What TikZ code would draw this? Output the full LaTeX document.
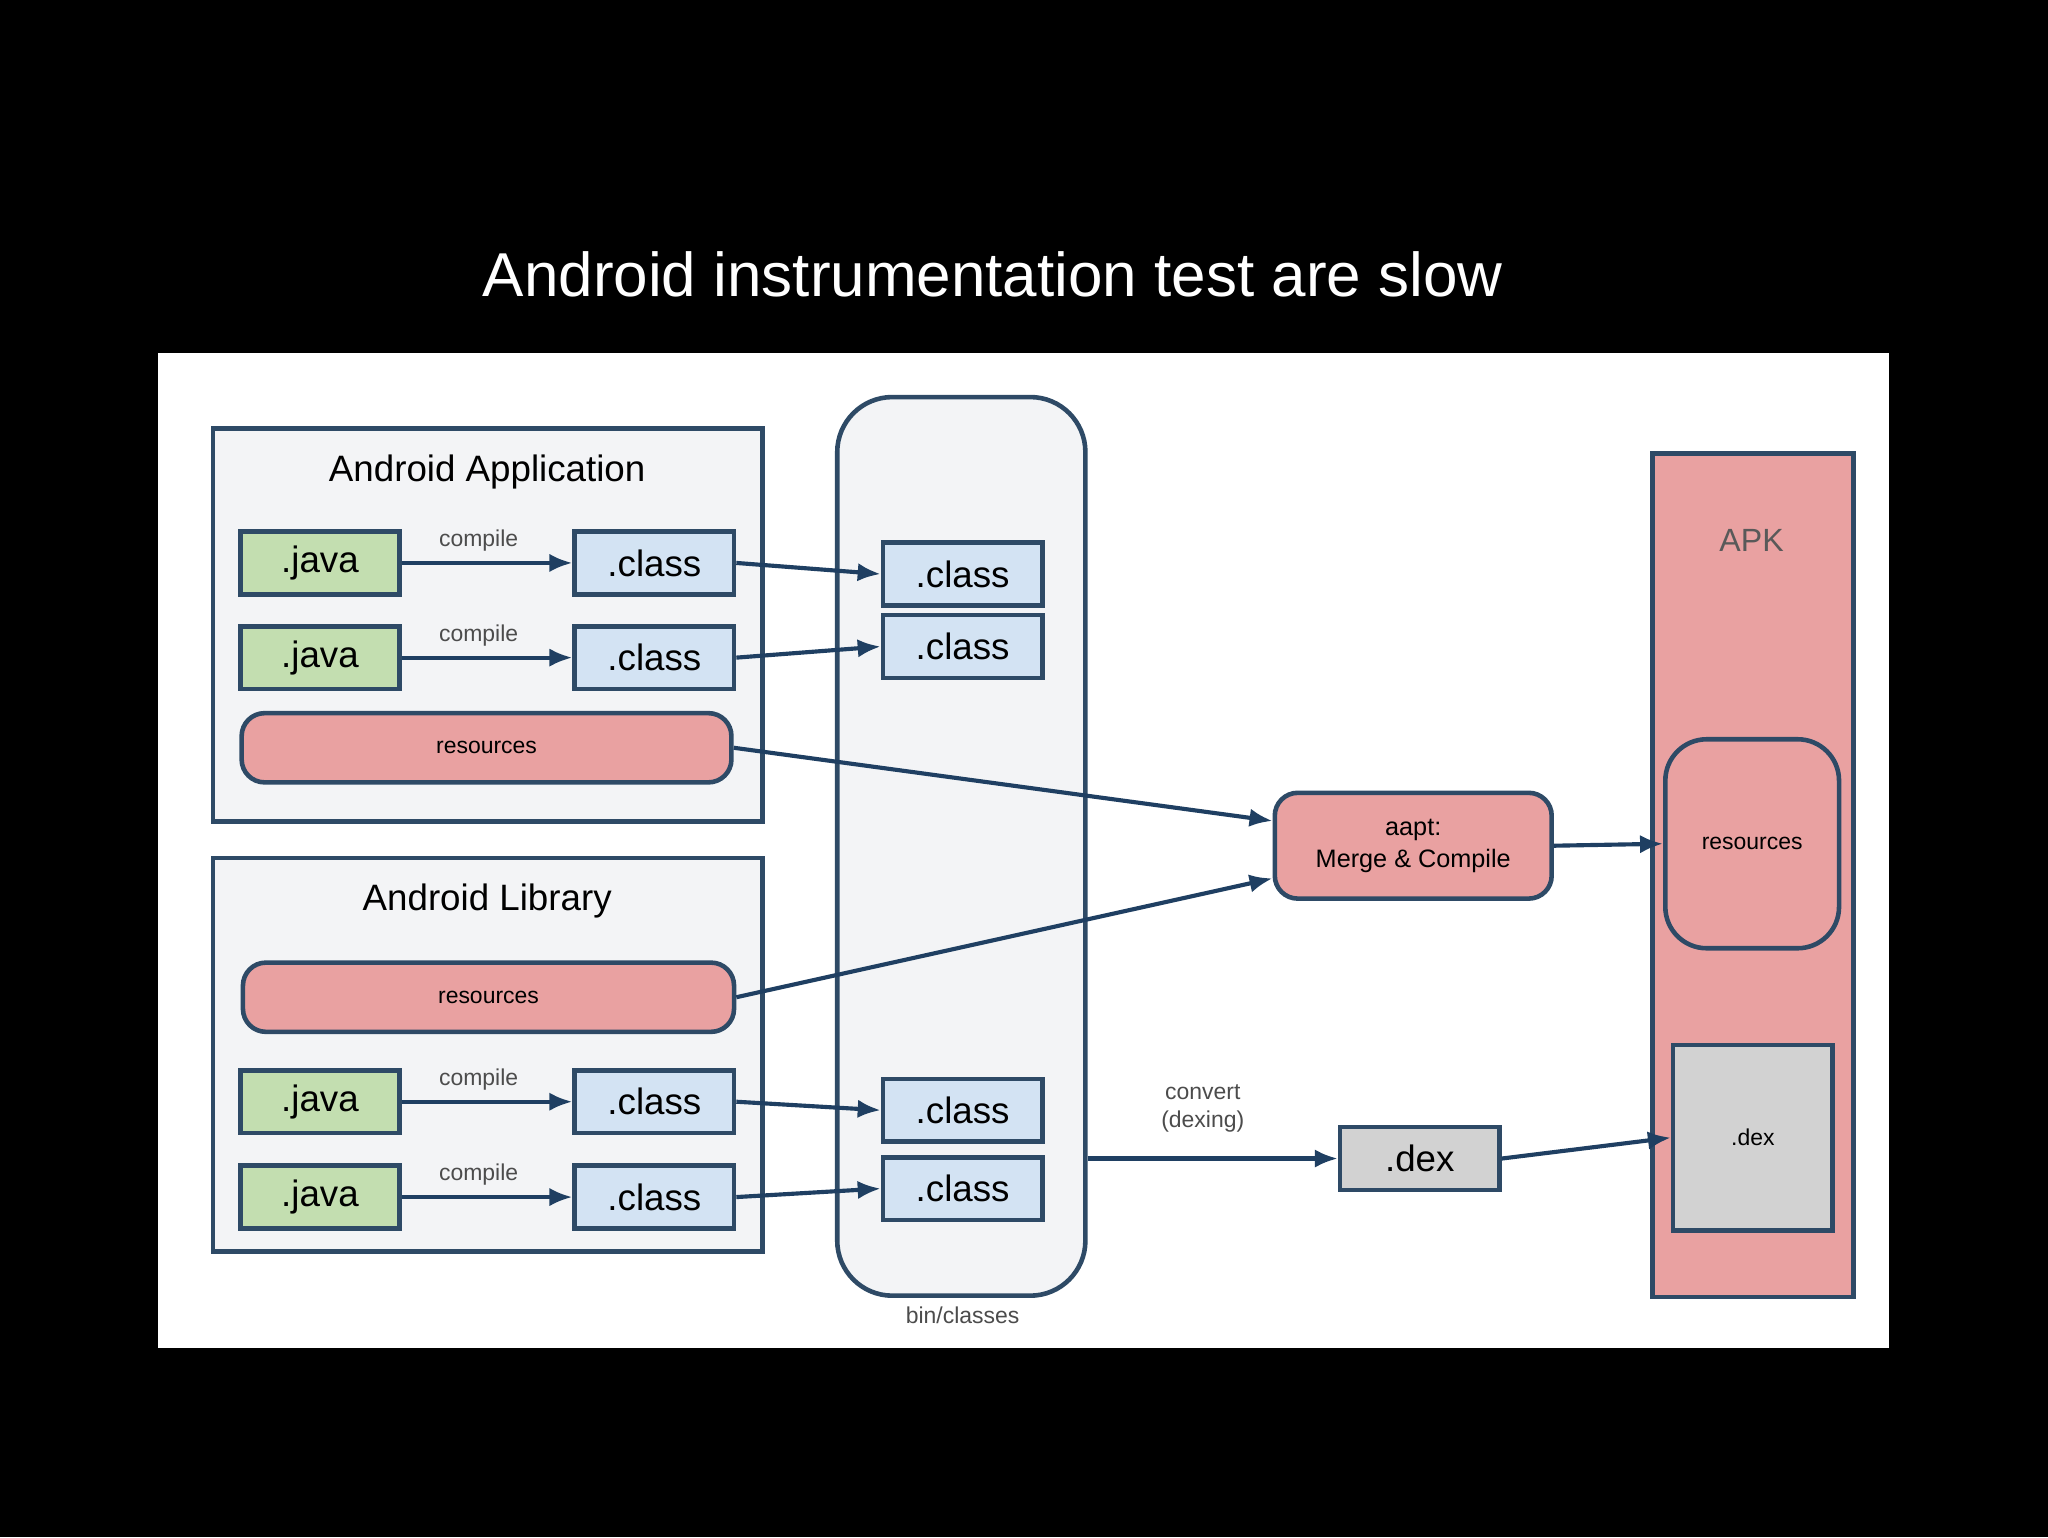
\documentclass[tikz,border=0pt]{standalone}
\usepackage{fontspec}
\setmainfont{Liberation Sans}
\usetikzlibrary{arrows.meta,calc}
\definecolor{bd}{HTML}{2E4A66}
\definecolor{ar}{HTML}{1F3F62}
\definecolor{grp}{HTML}{F3F4F6}
\definecolor{grn}{HTML}{C3DEB0}
\definecolor{blu}{HTML}{D3E3F3}
\definecolor{pnk}{HTML}{E9A1A1}
\definecolor{gry}{HTML}{D2D2D2}
\tikzset{
 base/.style={draw=bd,line width=1pt,inner sep=0pt},
 grpbox/.style={base,fill=grp},
 java/.style={base,fill=grn,minimum width=1.22cm,minimum height=0.48cm,font=\fontsize{8}{9}\selectfont},
 cls/.style={base,fill=blu,minimum width=1.22cm,minimum height=0.48cm,font=\fontsize{8}{9}\selectfont},
 res/.style={base,fill=pnk,rounded corners=5pt,minimum height=0.53cm,font=\fontsize{5}{6}\selectfont},
 lbl/.style={font=\fontsize{5}{6}\selectfont,text=black!70},
 arr/.style={draw=ar,line width=0.9pt,-{Latex[length=5pt,width=4pt]}},
}
\begin{document}
\begin{tikzpicture}
\fill[black] (0,0) rectangle (15.68,11.77);
\useasboundingbox (0,0) rectangle (15.68,11.77);
\fill[white] (1.21,1.45) rectangle (14.46,9.07);
\node[text=white,font=\fontsize{13.5}{15}\selectfont] (title) at (7.6,9.67) {Android instrumentation test are slow};
% groups
\node[grpbox,minimum width=4.21cm,minimum height=3.01cm] (app) at (3.735,6.985) {};
\node[font=\fontsize{8}{9}\selectfont] (appt) at (3.73,8.16) {Android Application};
\node[grpbox,minimum width=4.21cm,minimum height=3.01cm] (lib) at (3.735,3.695) {};
\node[font=\fontsize{8}{9}\selectfont] (libt) at (3.73,4.87) {Android Library};
\node[grpbox,rounded corners=12pt,minimum width=1.9cm,minimum height=6.88cm] (bin) at (7.36,5.29) {};
\node[lbl] (binl) at (7.37,1.70) {bin/classes};
\node[base,fill=pnk,minimum width=1.54cm,minimum height=6.46cm] (apk) at (13.42,5.07) {};
\node[font=\fontsize{7}{8}\selectfont,text=black!65] (apkt) at (13.41,7.63) {APK};
% app
\node[java] (j1) at (2.45,7.46) {.java};
\node[java] (j2) at (2.45,6.735) {.java};
\node[cls] (c1) at (5.01,7.46) {.class};
\node[cls] (c2) at (5.01,6.735) {.class};
\node[res,minimum width=3.75cm] (r1) at (3.725,6.045) {resources};
% lib
\node[res,minimum width=3.76cm] (r2) at (3.74,4.135) {resources};
\node[java] (j3) at (2.45,3.335) {.java};
\node[java] (j4) at (2.45,2.605) {.java};
\node[cls] (c3) at (5.01,3.335) {.class};
\node[cls] (c4) at (5.01,2.605) {.class};
% middle
\node[cls] (m1) at (7.37,7.375) {.class};
\node[cls] (m2) at (7.37,6.82) {.class};
\node[cls] (m3) at (7.37,3.27) {.class};
\node[cls] (m4) at (7.37,2.67) {.class};
% aapt, dex
\node[res,minimum width=2.12cm,minimum height=0.81cm,align=center,font=\fontsize{5.5}{7}\selectfont] (aapt) at (10.82,5.295) {aapt:\\Merge \& Compile};
\node[base,fill=gry,minimum width=1.22cm,minimum height=0.48cm,font=\fontsize{8}{9}\selectfont] (dex) at (10.87,2.9) {.dex};
\node[res,rounded corners=9pt,minimum width=1.33cm,minimum height=1.6cm] (ares) at (13.415,5.31) {resources};
\node[base,fill=gry,minimum width=1.22cm,minimum height=1.42cm,font=\fontsize{5}{6}\selectfont] (adex) at (13.42,3.06) {.dex};
% arrows
\foreach \a/\b in {j1/c1,j2/c2,j3/c3,j4/c4}{
 \draw[arr] (\a) -- (\b);
 \node[lbl] at ($(\a.east)!0.45!(\b.west)+(0,0.17)$) {compile};
}
\draw[arr] (c1.east) -- (m1.west);
\draw[arr] (c2.east) -- (m2.west);
\draw[arr] (c3.east) -- (m3.west);
\draw[arr] (c4.east) -- (m4.west);
\draw[arr] (r1.east) -- ([yshift=0.19cm]aapt.west);
\draw[arr] (r2.east) -- ([yshift=-0.25cm]aapt.west);
\draw[arr] (aapt.east) -- (ares.west);
\coordinate (bo) at (bin.east |- dex);
\draw[arr] (bo) -- (dex.west) node[lbl,pos=0.46,above=2pt,align=center] {convert\\(dexing)};
\draw[arr] (dex.east) -- (adex.west);
\end{tikzpicture}
\end{document}
